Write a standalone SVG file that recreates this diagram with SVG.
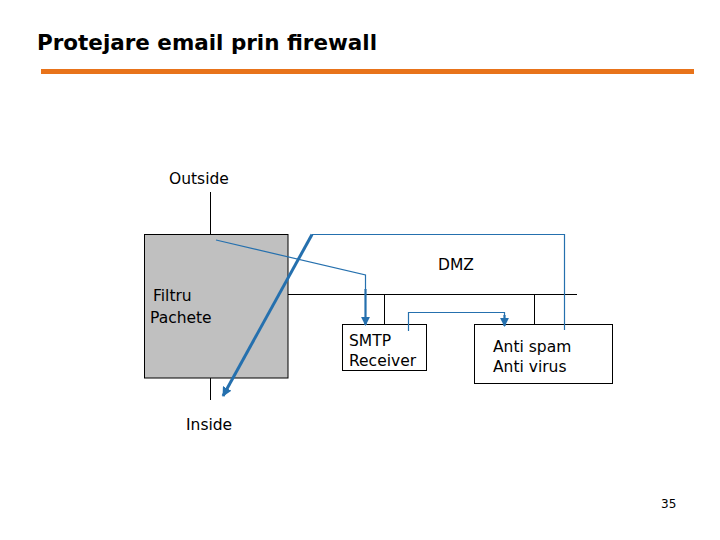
<svg xmlns="http://www.w3.org/2000/svg" width="720" height="540" viewBox="0 0 720 540">
<style>
.t{font-family:"DejaVu Sans",Verdana,sans-serif;font-size:15.5px;fill:#000}
.k{stroke:#000;stroke-width:1;fill:none}
.b{stroke:#2570AE;fill:none}
</style>
<defs>
<marker id="ah" viewBox="0 0 10 10" refX="9" refY="5" markerWidth="4" markerHeight="4" orient="auto" markerUnits="strokeWidth">
<path d="M0,0 L10,5 L0,10 z" fill="#2570AE"/>
</marker>
<marker id="ah2" viewBox="0 0 10 10" refX="9" refY="5" markerWidth="3.2" markerHeight="3.2" orient="auto" markerUnits="strokeWidth">
<path d="M0,0 L10,5 L0,10 z" fill="#2570AE"/>
</marker>
</defs>
<rect width="720" height="540" fill="#fff"/>
<g id="title">
<text x="37" y="50" style="font-family:'DejaVu Sans Condensed','Liberation Sans',sans-serif;font-weight:bold;font-size:22px" textLength="340" lengthAdjust="spacingAndGlyphs">Protejare email prin firewall</text>
<line x1="41" y1="71.5" x2="694" y2="71.5" stroke="#E8731A" stroke-width="5"/>
</g>
<g id="filtru">
<rect x="144.5" y="234.5" width="143.5" height="143.5" fill="#C0C0C0" stroke="#000"/>
<text class="t" x="153" y="301">Filtru</text>
<text class="t" x="150" y="323">Pachete</text>
</g>
<g id="outside"><text class="t" x="169" y="184">Outside</text></g>
<g id="inside"><text class="t" x="186" y="430">Inside</text></g>
<g id="dmz"><text class="t" x="438" y="270">DMZ</text></g>
<g id="smtp">
<rect x="342.5" y="324.5" width="84" height="46" fill="none" stroke="#000"/>
<text class="t" x="349" y="346">SMTP</text>
<text class="t" x="349" y="366">Receiver</text>
</g>
<g id="anti">
<rect x="474.5" y="324.5" width="138" height="59" fill="none" stroke="#000"/>
<text class="t" x="493" y="352">Anti spam</text>
<text class="t" x="493" y="372">Anti virus</text>
</g>
<g id="connectors">
<line class="k" x1="210.5" y1="192" x2="210.5" y2="234"/>
<line class="k" x1="210.5" y1="378" x2="210.5" y2="400"/>
<line class="k" x1="288" y1="294.5" x2="577" y2="294.5"/>
<line class="k" x1="384.5" y1="294.5" x2="384.5" y2="324"/>
<line class="k" x1="534.5" y1="294.5" x2="534.5" y2="324"/>
<polyline class="b" stroke-width="1.2" points="216,240 365.5,275 365.5,290"/>
<line class="b" stroke-width="2.2" x1="365.5" y1="289" x2="365.5" y2="325" marker-end="url(#ah)"/>
<polyline class="b" stroke-width="1.2" points="408.5,331 408.5,312.5 504.5,312.5 504.5,316"/>
<line class="b" stroke-width="2.2" x1="504.5" y1="315" x2="504.5" y2="326" marker-end="url(#ah)"/>
<polyline class="b" stroke-width="1.2" points="564.5,330 564.5,234.5 312,234.5"/>
<line class="b" stroke-width="3" x1="312" y1="234.5" x2="223" y2="396" marker-end="url(#ah2)"/>
</g>
<text x="661" y="508" style="font-family:'DejaVu Sans',sans-serif;font-size:12px">35</text>
</svg>
